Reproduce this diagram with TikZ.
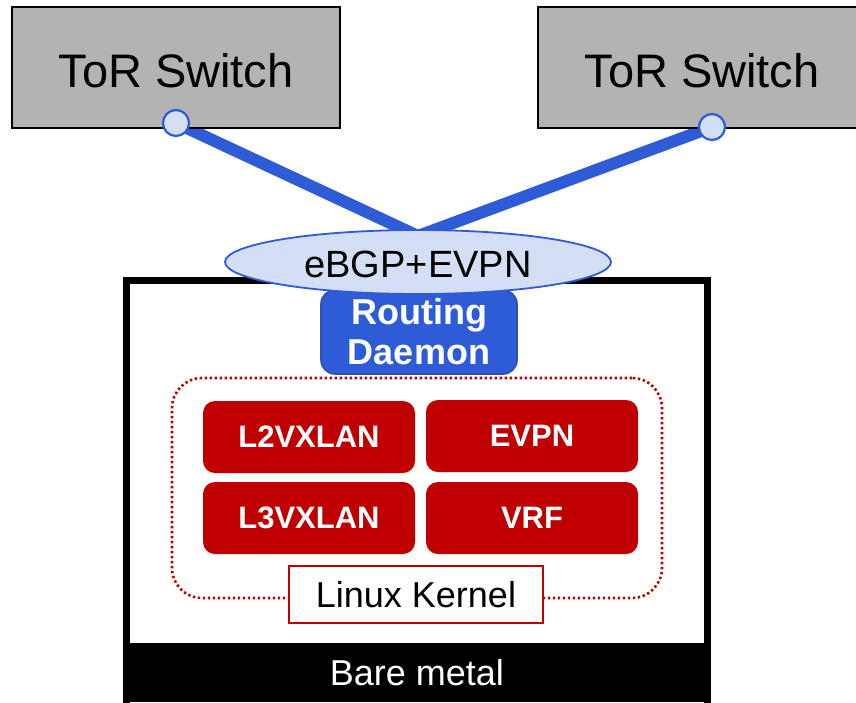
\documentclass[tikz,border=0pt]{standalone}
\usepackage{fontspec}
\setmainfont{Liberation Sans}
\usetikzlibrary{shapes.geometric}
\definecolor{swgray}{HTML}{B3B3B3}
\definecolor{linkblue}{HTML}{2E5CD6}
\definecolor{ovalfill}{HTML}{D4DEF5}
\definecolor{kred}{HTML}{C00000}
\definecolor{dblue}{HTML}{2A4FB5}
\pgfdeclarelayer{bg}
\pgfsetlayers{bg,main}
\newcommand{\fs}[2]{\fontsize{#1}{#2}\selectfont}
\tikzset{
  switchbox/.style={draw=black, line width=2pt, fill=swgray, minimum width=328pt,
    minimum height=121pt, inner sep=0pt, font=\fs{47}{52},
    text height=40pt, text depth=0pt},
  port/.style={circle, draw=linkblue, line width=2.2pt, fill=ovalfill,
    minimum size=26pt, inner sep=0pt},
  link/.style={draw=linkblue, line width=12pt},
  peering/.style={ellipse, draw=linkblue, line width=1.8pt, fill=ovalfill,
    minimum width=386pt, minimum height=64pt, inner sep=0pt, font=\fs{38}{42},
    text height=30pt, text depth=0pt},
  server/.style={draw=black, line width=7pt, fill=white, minimum width=581pt,
    minimum height=440pt, inner sep=0pt},
  daemon/.style={fill=linkblue, draw=dblue, line width=1.6pt, rounded corners=14pt,
    minimum width=196pt, minimum height=84pt, inner sep=0pt, align=center,
    text=white, font=\bfseries\fs{36}{40}},
  kernelzone/.style={draw=kred, line width=2.6pt, dash pattern=on 2.4pt off 2.6pt,
    rounded corners=30pt, minimum width=490pt, minimum height=220pt, inner sep=0pt},
  module/.style={fill=kred, rounded corners=12pt, minimum width=212pt,
    minimum height=72pt, inner sep=0pt, text=white, font=\bfseries\fs{31}{36}},
  kernellabel/.style={draw=kred, line width=2pt, fill=white, minimum width=254pt,
    minimum height=57pt, inner sep=0pt, font=\fs{36}{40}},
  metal/.style={fill=black, minimum width=588pt, minimum height=59pt, inner sep=0pt,
    text=white, font=\fs{36}{40}}
}
\begin{document}
\begin{tikzpicture}[x=1pt, y=-1pt]
  \clip (0,0) rectangle (856,702);
  \begin{pgfonlayer}{bg}
    \fill[white] (0,0) rectangle (856,702);
  \end{pgfonlayer}

  % top-of-rack switches
  \node[switchbox] (torL) at (176,67.5) {ToR Switch};
  \node[switchbox] (torR) at (702,67.5) {ToR Switch};

  % server chassis and bare-metal base
  \node[server] (host) at (417,500) {};
  \node[metal] (metal) at (417,672.5) {Bare metal};

  % routing daemon
  \node[daemon] (rd) at (419,332) {Routing\\Daemon};

  % kernel area with its modules
  \node[kernelzone] (kzone) at (417,488) {};
  \node[module] (l2) at (309,437) {L2VXLAN};
  \node[module] (evpn) at (532,436) {EVPN};
  \node[module] (l3) at (309,518) {L3VXLAN};
  \node[module] (vrf) at (532,518) {VRF};
  \node[kernellabel] (kern) at (416,594.5) {Linux Kernel};

  % BGP session and uplinks
  \node[peering] (bgp) at (418,262) {eBGP+EVPN};
  \node[port] (pL) at (176,123) {};
  \node[port] (pR) at (712,127) {};
  \coordinate (join) at (418,236);
  \begin{pgfonlayer}{bg}
    \draw[link] (pL.center) -- (join);
    \draw[link] (pR.center) -- (join);
  \end{pgfonlayer}
\end{tikzpicture}
\end{document}
